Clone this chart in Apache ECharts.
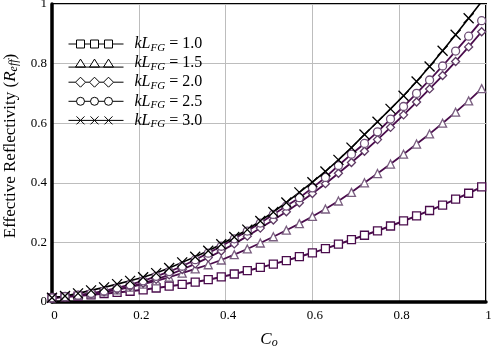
<!DOCTYPE html>
<html>
<head>
<meta charset="utf-8">
<script src="https://cdn.jsdelivr.net/npm/echarts@6/dist/echarts.min.js"></script>
<style>html,body{margin:0;padding:0;background:#fff}#c{width:497px;height:349px}</style>
</head>
<body>
<div id="c"></div>
<script>
var co = [0,0.03,0.06,0.09,0.12,0.15,0.18,0.21,0.24,0.27,0.30,0.33,0.36,0.39,0.42,0.45,0.48,0.51,0.54,0.57,0.60,0.63,0.66,0.69,0.72,0.75,0.78,0.81,0.84,0.87,0.90,0.93,0.96,0.99];
var kl10 = [0.014,0.017,0.020,0.024,0.028,0.032,0.036,0.041,0.047,0.053,0.059,0.067,0.075,0.084,0.094,0.105,0.116,0.127,0.139,0.152,0.165,0.179,0.194,0.209,0.224,0.239,0.255,0.272,0.289,0.307,0.325,0.345,0.365,0.386];
var kl15 = [0.014,0.018,0.022,0.027,0.034,0.041,0.050,0.060,0.071,0.083,0.097,0.111,0.125,0.141,0.159,0.178,0.198,0.219,0.241,0.263,0.287,0.312,0.339,0.368,0.400,0.431,0.463,0.496,0.530,0.564,0.600,0.637,0.675,0.716];
var kl20 = [0.014,0.018,0.022,0.027,0.034,0.042,0.052,0.063,0.076,0.091,0.109,0.128,0.149,0.171,0.195,0.221,0.248,0.275,0.303,0.333,0.364,0.397,0.432,0.468,0.506,0.545,0.586,0.628,0.671,0.715,0.760,0.807,0.856,0.907];
var kl25 = [0.014,0.018,0.023,0.029,0.037,0.047,0.058,0.071,0.086,0.102,0.120,0.142,0.164,0.187,0.212,0.238,0.265,0.294,0.322,0.350,0.383,0.418,0.458,0.496,0.532,0.571,0.614,0.656,0.700,0.745,0.792,0.842,0.892,0.944];
var kl30 = [0.014,0.020,0.029,0.039,0.049,0.060,0.071,0.083,0.097,0.114,0.133,0.152,0.172,0.194,0.218,0.243,0.272,0.302,0.334,0.368,0.402,0.438,0.477,0.518,0.562,0.605,0.648,0.692,0.740,0.790,0.843,0.897,0.952,1.008];
var seriesNames = ['1.0','1.5','2.0','2.5','3.0'];
var xTicks = [0,0.2,0.4,0.6,0.8,1];
var yTicks = [0,0.2,0.4,0.6,0.8,1];

var FONT = 'Liberation Serif';
var PURPLE = '#4a0c4c';
function pairs(ys){ return co.map(function(x,i){ return [x, ys[i]]; }); }

var xPath = 'path://M0,0L10,10M0,10L10,0';
var icons = {
  '1.0': 'path://M0,0M0,10M0,5H8M16,5H22M30,5H36M44,5H55M8,1H16V9H8ZM22,1H30V9H22ZM36,1H44V9H36Z',
  '1.5': 'path://M0,0M0,10M0,9H55M7,9L12,1L17,9ZM21,9L26,1L31,9ZM35,9L40,1L45,9Z',
  '2.0': 'path://M0,0M0,10M0,5H7M17,5H21M31,5H35M45,5H55M7,5L12,0L17,5L12,10ZM21,5L26,0L31,5L26,10ZM35,5L40,0L45,5L40,10Z',
  '2.5': 'path://M0,0M0,10M0,5H8M16,5H22M30,5H36M44,5H55M16,5A4,4,0,1,1,8,5A4,4,0,1,1,16,5ZM30,5A4,4,0,1,1,22,5A4,4,0,1,1,30,5ZM44,5A4,4,0,1,1,36,5A4,4,0,1,1,44,5Z',
  '3.0': 'path://M0,0M0,10M0,5H55M8,1L16,9M8,9L16,1M22,1L30,9M22,9L30,1M36,1L44,9M36,9L44,1'
};

function mk(name, ys, symbol, size, border, lineColor, lw){
  return {
    name: name, type: 'line', data: pairs(ys), symbol: symbol, symbolSize: size,
    showAllSymbol: true, clip: true,
    lineStyle: {color: lineColor, width: lw},
    itemStyle: {color: symbol === xPath ? 'rgba(0,0,0,0)' : '#fff', borderColor: border, borderWidth: 1.3},
    emphasis: {disabled: true}, animation: false
  };
}

var chart = echarts.init(document.getElementById('c'), null, {renderer: 'canvas'});
chart.setOption({
  animation: false,
  backgroundColor: '#fff',
  grid: {left: 52, right: 11, top: 4, bottom: 47, show: true, borderColor: '#000', borderWidth: 2, outerBoundsMode: 'none', containLabel: false},
  legend: {
    orient: 'vertical', left: 68, top: 36, padding: 0, itemWidth: 55, itemHeight: 10, itemGap: 1.6,
    data: seriesNames.map(function(n){ return {name: n, icon: icons[n]}; }),
    itemStyle: {color: '#fff', borderColor: '#000', borderWidth: 1},
    formatter: function(n){ return '{i|kL}{s|FG}{n| = ' + n + '}'; },
    textStyle: {
      padding: [0,0,0,6],
      rich: {
        i: {fontFamily: FONT, fontSize: 16, fontStyle: 'italic', color: '#000', lineHeight: 19},
        s: {fontFamily: FONT, fontSize: 11, fontStyle: 'italic', color: '#000', verticalAlign: 'bottom', lineHeight: 19, padding: [5,0,0,0]},
        n: {fontFamily: FONT, fontSize: 16, color: '#000', lineHeight: 19}
      }
    }
  },
  xAxis: {
    type: 'value', min: 0, max: 1, interval: 0.2,
    name: '{i|C}{s|o}', nameLocation: 'middle', nameGap: 29,
    nameTextStyle: {rich: {
      i: {fontFamily: FONT, fontSize: 17, fontStyle: 'italic', color: '#000'},
      s: {fontFamily: FONT, fontSize: 12, fontStyle: 'italic', color: '#000', verticalAlign: 'bottom', padding: [6,0,0,0]}
    }},
    axisLine: {show: true, onZero: false, lineStyle: {color: '#000', width: 3.5}},
    axisTick: {show: false},
    splitLine: {show: true, lineStyle: {color: '#bdbdbd', width: 1}},
    axisLabel: {fontFamily: FONT, fontSize: 13, color: '#000', margin: 7, padding: [0,0,0,5],
      formatter: function(v){ return xTicks.indexOf(v) >= 0 ? String(v) : ''; }}
  },
  yAxis: {
    type: 'value', min: 0, max: 1, interval: 0.2,
    name: 'Effective Reflectivity ({i|R}{s|eff})', nameLocation: 'middle', nameGap: 30, nameRotate: 90,
    nameTextStyle: {fontFamily: FONT, fontSize: 17, color: '#000', padding: [0,0,0,14], rich: {
      i: {fontFamily: FONT, fontSize: 17, fontStyle: 'italic', color: '#000'},
      s: {fontFamily: FONT, fontSize: 12, fontStyle: 'italic', color: '#000', verticalAlign: 'bottom', padding: [6,0,0,0]}
    }},
    axisLine: {show: true, onZero: false, lineStyle: {color: '#000', width: 3.5}},
    axisTick: {show: false},
    splitLine: {show: true, lineStyle: {color: '#bdbdbd', width: 1}},
    axisLabel: {fontFamily: FONT, fontSize: 13, color: '#000', margin: 5,
      formatter: function(v){ return yTicks.indexOf(v) >= 0 ? String(v) : ''; }}
  },
  series: [
    mk('1.0', kl10, 'rect', 8, PURPLE, PURPLE, 2),
    mk('1.5', kl15, 'triangle', 8, '#7a5f80', PURPLE, 1.8),
    mk('2.0', kl20, 'diamond', 8, '#5e3a64', PURPLE, 1.8),
    mk('2.5', kl25, 'circle', 8, '#6e4f76', PURPLE, 1.8),
    mk('3.0', kl30, xPath, 10, '#000', '#000', 1.6)
  ]
});
</script>
</body>
</html>
